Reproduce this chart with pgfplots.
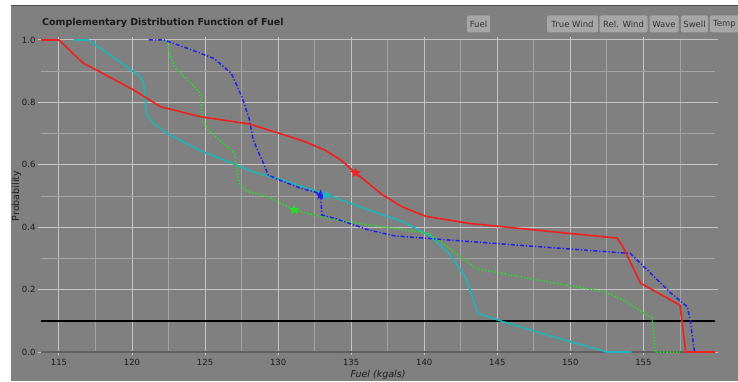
\documentclass[border=0pt]{standalone}
\usepackage{pgfplots}
\pgfplotsset{compat=1.18}
\usepackage{fontspec}
\setmainfont{DejaVu Sans}
\definecolor{bg}{HTML}{808080}
\definecolor{gmaj}{HTML}{C4C4C4}
\definecolor{gmin}{HTML}{A4A4A4}
\definecolor{txt}{HTML}{1C1C1C}
\definecolor{btn}{HTML}{A6A6A6}
\definecolor{cred}{HTML}{F02020}
\definecolor{ccyan}{HTML}{20B4B8}
\definecolor{cgreen}{HTML}{22E022}
\definecolor{cblue}{HTML}{2020F0}
\pgfdeclareplotmark{fstar}{%
 \pgfpathmoveto{\pgfpointpolar{90}{\pgfplotmarksize}}%
 \pgfpathlineto{\pgfpointpolar{126}{0.42\pgfplotmarksize}}%
 \pgfpathlineto{\pgfpointpolar{162}{\pgfplotmarksize}}%
 \pgfpathlineto{\pgfpointpolar{198}{0.42\pgfplotmarksize}}%
 \pgfpathlineto{\pgfpointpolar{234}{\pgfplotmarksize}}%
 \pgfpathlineto{\pgfpointpolar{270}{0.42\pgfplotmarksize}}%
 \pgfpathlineto{\pgfpointpolar{306}{\pgfplotmarksize}}%
 \pgfpathlineto{\pgfpointpolar{342}{0.42\pgfplotmarksize}}%
 \pgfpathlineto{\pgfpointpolar{18}{\pgfplotmarksize}}%
 \pgfpathlineto{\pgfpointpolar{54}{0.42\pgfplotmarksize}}%
 \pgfpathclose\pgfusepathqfill}
\begin{document}
\begin{tikzpicture}[x=1pt,y=1pt]
\path[use as bounding box] (0,0) rectangle (738,381);
\fill[white] (0,0) rectangle (738,381);
\fill[bg] (11,0) rectangle (738,375);
\draw[line width=1pt,black!70] (11,375.5) -- (738,375.5);
% title and buttons
\node[anchor=west,font=\bfseries\fontsize{9.5}{11}\selectfont,text=txt,inner sep=0pt] at (42,358.5) {Complementary Distribution Function of Fuel};
\tikzset{btnst/.style={fill=btn,rounded corners=1.5pt,inner sep=0pt,font=\fontsize{8.5}{10}\selectfont,text=black!80}}
\node[btnst,minimum width=23pt,minimum height=17pt] at (478.5,357) {Fuel};
\node[btnst,minimum width=51pt,minimum height=17pt] at (572.5,357) {True Wind};
\node[btnst,minimum width=48pt,minimum height=17pt] at (623.5,357) {Rel. Wind};
\node[btnst,minimum width=29pt,minimum height=17pt] at (664,357) {Wave};
\node[btnst,minimum width=27pt,minimum height=17pt] at (694.5,357) {Swell};
\node[btnst,minimum width=30pt,minimum height=17pt,anchor=west,align=left,text width=30pt] at (710,357) {\hspace*{3pt}Temp};
\begin{axis}[
  at={(41pt,29pt)}, anchor=south west,
  scale only axis, width=674pt, height=312pt,
  xmin=113.77, xmax=159.9, ymin=0, ymax=1,
  xtick={115,120,...,155}, minor xtick={117.5,122.5,...,157.5},
  ytick={0,0.2,...,1.0}, minor ytick={0.1,0.3,0.5,0.7,0.9},
  yticklabel style={/pgf/number format/fixed,/pgf/number format/fixed zerofill,/pgf/number format/precision=1},
  /pgf/number format/assume math mode=true,
  ticklabel style={font=\fontsize{8.5}{10}\selectfont,text=txt},
  xticklabel style={yshift=-1pt},
  yticklabel style={xshift=1pt},
  grid=both,
  major grid style={gmaj,line width=1pt},
  minor grid style={gmin,line width=0.8pt},
  tick align=outside, major tick length=3pt, minor tick length=0pt,
  major tick style={gmaj,line width=1pt},
  axis line style={draw=none},
  xlabel={Fuel (kgals)}, ylabel={Probability},
  label style={font=\itshape\fontsize{9.5}{11}\selectfont,text=txt},
  xlabel style={yshift=3pt},
  ylabel style={font=\fontsize{9.5}{11}\selectfont,text=txt,yshift=-6pt},
  clip=false,
]
\draw[black!62,line width=1.5pt] (rel axis cs:0,0) -- (rel axis cs:1,0);
\addplot[black,line width=1.5pt] coordinates {(113.77,0.1) (159.9,0.1)};
% cyan
\addplot[ccyan,line width=1.6pt] coordinates {
(116.0,1.0) (117.0,1.0) (118.5,0.952) (120.6,0.882) (120.8,0.861) (120.9,0.818)
(121.0,0.76) (121.5,0.733) (122.4,0.70) (124.7,0.645) (127.0,0.602) (128.2,0.578)
(130.2,0.553) (133.4,0.503) (136.0,0.458) (138.5,0.418) (140.3,0.375) (141.7,0.316)
(142.8,0.241) (143.3,0.177) (143.65,0.124) (145.4,0.097) (148.8,0.049) (152.5,0.0) (154.2,0.0)};
% green dotted
\addplot[cgreen,line width=1.5pt,dash pattern=on 1.5pt off 1.8pt] coordinates {
(122.4,1.0) (122.5,0.968) (122.9,0.914) (123.8,0.872) (124.6,0.834) (124.7,0.808)
(124.8,0.744) (125.2,0.712) (127.0,0.637) (127.1,0.605) (127.35,0.54) (127.9,0.514)
(129.3,0.498) (131.1,0.455) (133.4,0.428) (136.2,0.407) (138.5,0.393) (140.3,0.38)
(141.9,0.327) (143.5,0.268) (147.7,0.231) (152.3,0.193) (153.6,0.167) (155.6,0.108)
(155.8,0.0) (157.5,0.0)};
% blue dash-dot
\addplot[cblue,line width=1.5pt,dash pattern=on 4pt off 2pt on 1.2pt off 2pt] coordinates {
(121.15,1.0) (122.2,1.0) (123.8,0.973) (125.6,0.941) (126.8,0.893) (127.5,0.82)
(128.0,0.75) (128.3,0.68) (128.7,0.635) (129.0,0.605) (129.3,0.568) (130.2,0.549)
(131.6,0.524) (132.9,0.508) (133.0,0.439) (133.9,0.428) (136.2,0.391) (138.0,0.372)
(143.1,0.354) (147.7,0.338) (152.3,0.322) (154.1,0.316) (155.5,0.252) (156.9,0.188)
(158.0,0.145) (158.2,0.103) (158.5,0.0) (159.9,0.0)};
% red
\addplot[cred,line width=1.6pt] coordinates {
(113.77,1.0) (115.0,1.0) (116.65,0.926) (117.8,0.898) (120.1,0.84) (121.96,0.786)
(124.7,0.754) (128.0,0.731) (130.2,0.699) (131.8,0.675) (133.2,0.647) (134.3,0.615)
(135.3,0.574) (136.2,0.54) (137.1,0.505) (138.5,0.465) (140.1,0.435) (143.1,0.412)
(147.6,0.391) (153.2,0.365) (153.6,0.337) (154.8,0.221) (157.5,0.15) (157.9,0.0) (159.9,0.0)};
% stars
\addplot[only marks,mark=fstar,mark size=5.5pt,cgreen] coordinates {(131.1,0.455)};
\addplot[only marks,mark=fstar,mark size=5.5pt,cblue] coordinates {(132.9,0.503)};
\addplot[only marks,mark=fstar,mark size=5.5pt,ccyan] coordinates {(133.3,0.503)};
\addplot[only marks,mark=fstar,mark size=5.5pt,cred] coordinates {(135.3,0.574)};
\end{axis}
\end{tikzpicture}
\end{document}
